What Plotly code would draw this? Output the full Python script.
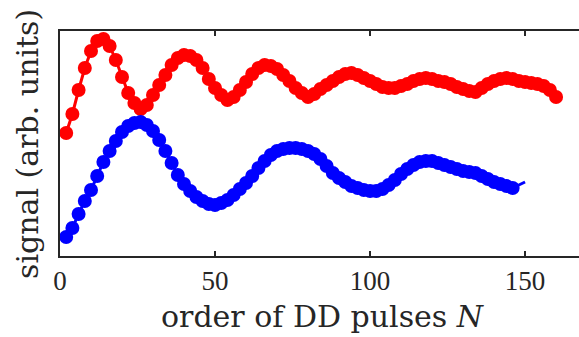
import plotly.graph_objects as go

# order of DD pulses
n_red = list(range(2, 161, 2))
n_blue = list(range(2, 147, 2))

red_signal = [123, 142, 166, 188, 205, 215, 217, 210, 196, 179, 163, 153, 147, 151, 161, 171,
              181, 191, 198, 201, 200, 196, 188, 177, 168, 161, 156, 159, 166, 174, 182, 188,
              191, 190, 187, 181, 175, 168, 163, 159, 162, 167, 171, 175, 179, 182, 183, 181,
              178, 175, 172, 169, 168, 168, 170, 172, 175, 177, 178, 177, 175, 174, 172, 169,
              167, 165, 164, 168, 172, 175, 177, 178, 177, 175, 174, 173, 172, 170, 166, 159]

blue_signal = [19, 28, 42, 55, 66, 80, 94, 105, 115, 124, 130, 133, 134, 131, 125, 116,
               105, 93, 81, 72, 65, 59, 55, 52, 51, 53, 56, 61, 67, 73, 80, 88,
               95, 101, 105, 107, 108, 108, 107, 105, 102, 97, 90, 83, 78, 74, 70, 68,
               66, 65, 65, 67, 71, 76, 82, 87, 91, 94, 95, 95, 93, 91, 89, 87,
               85, 84, 83, 80, 77, 74, 72, 70, 68]

# blue fit line runs a bit further than the markers
n_blue_line = n_blue + [148, 150]
blue_line = blue_signal + [71, 74]

x_ticks = [0, 50, 100, 150]

TICK_FONT = "Liberation Serif"
LABEL_FONT = "DejaVu Serif"
INK = "#262626"
RED = "#ff0000"
BLUE = "#0000ff"

fig = go.Figure()
fig.add_trace(go.Scatter(x=n_red, y=red_signal, mode="lines+markers",
                         line=dict(color=RED, width=3),
                         marker=dict(color=RED, size=14), showlegend=False))
fig.add_trace(go.Scatter(x=n_blue_line, y=blue_line, mode="lines",
                         line=dict(color=BLUE, width=3), showlegend=False))
fig.add_trace(go.Scatter(x=n_blue, y=blue_signal, mode="markers",
                         marker=dict(color=BLUE, size=14), showlegend=False))

fig.update_layout(
    width=579, height=337,
    margin=dict(l=60, r=0, t=31, b=81),
    plot_bgcolor="white", paper_bgcolor="white",
    font=dict(family=TICK_FONT, size=27, color=INK),
    xaxis=dict(range=[0, 167.4], tickvals=x_ticks, ticks="inside", ticklen=5,
               tickwidth=1.5, tickcolor=INK, showline=True, linecolor=INK,
               linewidth=1.5, mirror="ticks", showgrid=False, zeroline=False,
               tickfont=dict(family=TICK_FONT, size=27, color=INK)),
    yaxis=dict(range=[0, 225], showticklabels=False, ticks="", showline=True,
               linecolor=INK, linewidth=1.5, mirror=False, showgrid=False,
               zeroline=False),
    annotations=[
        dict(text="order of DD pulses <i>N</i>", xref="paper", yref="paper",
             x=0.5077, y=-0.269, xanchor="center", yanchor="middle", showarrow=False,
             font=dict(family=LABEL_FONT, size=30, color=INK)),
        dict(text="signal (arb. units)", xref="paper", yref="paper",
             x=-0.0617, y=0.498, xanchor="center", yanchor="middle", showarrow=False,
             textangle=-90, font=dict(family=LABEL_FONT, size=30, color=INK)),
    ],
)

fig.write_html("out.html")
